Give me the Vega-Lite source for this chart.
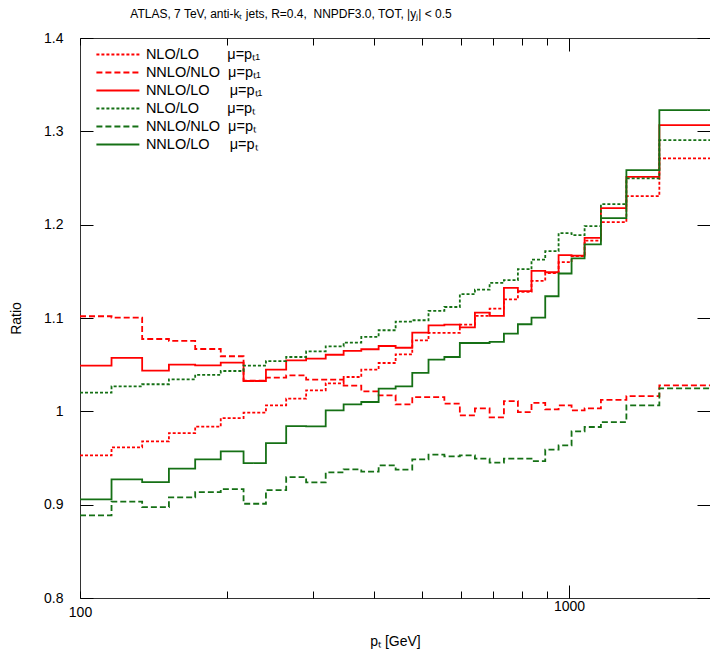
{
  "$schema": "https://vega.github.io/schema/vega-lite/v6.json",
  "width": 630,
  "height": 560,
  "autosize": {"type": "none"},
  "padding": {"left": 80, "top": 38, "right": 0, "bottom": 55},
  "background": "white",
  "title": {
    "text": "ATLAS, 7 TeV, anti-kₜ jets, R=0.4,\u00a0 NNPDF3.0, TOT, |yⱼ| < 0.5",
    "anchor": "middle", "dx": -104, "offset": 10,
    "font": "Liberation Sans", "fontSize": 12, "fontWeight": "normal", "color": "#000"
  },
  "config": {
    "view": {"stroke": "#333", "strokeWidth": 1},
    "axis": {
      "domain": false, "grid": false, "tickColor": "#000", "tickWidth": 1,
      "labelColor": "#000", "labelFont": "Liberation Sans", "labelFontSize": 14,
      "titleColor": "#000", "titleFont": "Liberation Sans", "titleFontSize": 14, "titleFontWeight": "normal",
      "labelOverlap": false, "labelFlush": false
    }
  },
  "datasets": {
    "ratios": [
      {"pt": 100, "rn": 0.9528, "rd": 1.1019, "rs": 1.049, "gn": 1.020, "gd": 0.8885, "gs": 0.9056},
      {"pt": 116, "rn": 0.9614, "rd": 1.1005, "rs": 1.0572, "gn": 1.0268, "gd": 0.9032, "gs": 0.9271},
      {"pt": 134, "rn": 0.9678, "rd": 1.0775, "rs": 1.0436, "gn": 1.029, "gd": 0.8974, "gs": 0.9242},
      {"pt": 152, "rn": 0.9767, "rd": 1.0754, "rs": 1.0501, "gn": 1.0343, "gd": 0.9078, "gs": 0.9386},
      {"pt": 172, "rn": 0.9836, "rd": 1.0668, "rs": 1.0493, "gn": 1.0391, "gd": 0.9135, "gs": 0.9485},
      {"pt": 194, "rn": 0.9928, "rd": 1.059, "rs": 1.0522, "gn": 1.0432, "gd": 0.9167, "gs": 0.9571},
      {"pt": 216, "rn": 0.9986, "rd": 1.033, "rs": 1.0325, "gn": 1.049, "gd": 0.901, "gs": 0.9446},
      {"pt": 240, "rn": 1.0064, "rd": 1.0361, "rs": 1.0447, "gn": 1.0539, "gd": 0.9156, "gs": 0.966},
      {"pt": 264, "rn": 1.0136, "rd": 1.0386, "rs": 1.0547, "gn": 1.0582, "gd": 0.9295, "gs": 0.9842},
      {"pt": 290, "rn": 1.0225, "rd": 1.034, "rs": 1.0565, "gn": 1.0643, "gd": 0.9239, "gs": 0.9839},
      {"pt": 318, "rn": 1.030, "rd": 1.034, "rs": 1.0606, "gn": 1.0697, "gd": 0.9346, "gs": 1.0011},
      {"pt": 346, "rn": 1.0368, "rd": 1.0276, "rs": 1.0647, "gn": 1.0737, "gd": 0.9378, "gs": 1.0075},
      {"pt": 376, "rn": 1.0447, "rd": 1.0214, "rs": 1.0665, "gn": 1.0797, "gd": 0.9353, "gs": 1.010},
      {"pt": 408, "rn": 1.0518, "rd": 1.0172, "rs": 1.070, "gn": 1.0869, "gd": 0.9421, "gs": 1.0243},
      {"pt": 442, "rn": 1.0611, "rd": 1.0075, "rs": 1.0681, "gn": 1.0962, "gd": 0.9375, "gs": 1.0268},
      {"pt": 478, "rn": 1.0761, "rd": 1.0153, "rs": 1.0844, "gn": 1.0976, "gd": 0.9485, "gs": 1.0411},
      {"pt": 516, "rn": 1.084, "rd": 1.0153, "rs": 1.0922, "gn": 1.1076, "gd": 0.9536, "gs": 1.0554},
      {"pt": 556, "rn": 1.084, "rd": 1.0083, "rs": 1.093, "gn": 1.1118, "gd": 0.9517, "gs": 1.0582},
      {"pt": 598, "rn": 1.093, "rd": 0.9957, "rs": 1.090, "gn": 1.1255, "gd": 0.9528, "gs": 1.0732},
      {"pt": 642, "rn": 1.1022, "rd": 1.0032, "rs": 1.1058, "gn": 1.1303, "gd": 0.9493, "gs": 1.0732},
      {"pt": 688, "rn": 1.110, "rd": 0.9936, "rs": 1.1022, "gn": 1.1376, "gd": 0.945, "gs": 1.0745},
      {"pt": 736, "rn": 1.120, "rd": 1.011, "rs": 1.1322, "gn": 1.1405, "gd": 0.9493, "gs": 1.0833},
      {"pt": 786, "rn": 1.128, "rd": 0.9992, "rs": 1.1287, "gn": 1.1523, "gd": 0.9493, "gs": 1.0933},
      {"pt": 838, "rn": 1.1397, "rd": 1.0091, "rs": 1.1505, "gn": 1.1625, "gd": 0.9467, "gs": 1.1003},
      {"pt": 894, "rn": 1.148, "rd": 1.0021, "rs": 1.149, "gn": 1.1716, "gd": 0.9589, "gs": 1.1233},
      {"pt": 952, "rn": 1.1598, "rd": 1.0064, "rs": 1.1673, "gn": 1.1909, "gd": 0.9635, "gs": 1.1477},
      {"pt": 1012, "rn": 1.1662, "rd": 1.0011, "rs": 1.1668, "gn": 1.1887, "gd": 0.9786, "gs": 1.1638},
      {"pt": 1076, "rn": 1.1828, "rd": 1.0032, "rs": 1.1858, "gn": 1.1984, "gd": 0.9832, "gs": 1.1788},
      {"pt": 1162, "rn": 1.2027, "rd": 1.0123, "rs": 1.2177, "gn": 1.222, "gd": 0.9885, "gs": 1.207},
      {"pt": 1310, "rn": 1.2306, "rd": 1.0164, "rs": 1.2513, "gn": 1.2495, "gd": 1.0064, "gs": 1.2584},
      {"pt": 1530, "rn": 1.271, "rd": 1.0279, "rs": 1.3067, "gn": 1.2906, "gd": 1.0247, "gs": 1.3228},
      {"pt": 1992, "rn": 1.271, "rd": 1.0279, "rs": 1.3067, "gn": 1.2906, "gd": 1.0247, "gs": 1.3228}
    ]
  },
  "layer": [
    {
      "data": {"name": "ratios"},
      "transform": [{"fold": ["rn", "rd", "rs", "gn", "gd", "gs"], "as": ["s", "r"]}],
      "mark": {"type": "line", "interpolate": "step-after", "strokeWidth": 1.8, "clip": true},
      "encoding": {
        "x": {
          "field": "pt", "type": "quantitative",
          "scale": {"type": "log", "domain": [100, 1942], "nice": false},
          "axis": {
            "orient": "bottom", "title": "pₜ [GeV]",
            "values": [100, 200, 300, 400, 500, 600, 700, 800, 900, 1000],
            "tickSize": {"condition": {"test": "datum.value == 1000", "value": -13}, "value": -7},
            "labelExpr": "datum.value == 100 || datum.value == 1000 ? datum.value : ''",
            "labelPadding": 14, "titlePadding": 15
          }
        },
        "y": {
          "field": "r", "type": "quantitative",
          "scale": {"domain": [0.8, 1.4], "nice": false},
          "axis": {
            "orient": "left", "title": "Ratio",
            "values": [0.8, 0.9, 1, 1.1, 1.2, 1.3, 1.4], "format": "~g",
            "tickSize": -13, "labelPadding": 30, "titlePadding": 20
          }
        },
        "color": {
          "field": "s", "type": "nominal",
          "scale": {"domain": ["rn", "rd", "rs", "gn", "gd", "gs"], "range": ["#ff0000", "#ff0000", "#ff0000", "#157015", "#157015", "#157015"]},
          "legend": {
            "orient": "none", "legendX": 29.4, "legendY": 8, "title": null, "padding": 0,
            "symbolType": "M-3.04,0H3.04", "symbolSize": 200, "symbolStrokeWidth": 2, "symbolFillColor": "transparent",
            "labelFont": "Liberation Sans", "labelFontSize": 14.5, "labelColor": "#000", "labelLimit": 400, "labelOffset": 19.5,
            "rowPadding": 3,
            "labelExpr": "datum.value == 'rn' ? 'NLO/LO\u00a0\u00a0\u00a0\u00a0\u00a0\u00a0\u00a0μ=pₜ₁' : datum.value == 'rd' ? 'NNLO/NLO\u00a0\u00a0μ=pₜ₁' : datum.value == 'rs' ? 'NNLO/LO\u00a0\u00a0\u00a0\u00a0\u00a0μ=pₜ₁' : datum.value == 'gn' ? 'NLO/LO\u00a0\u00a0\u00a0\u00a0\u00a0\u00a0\u00a0μ=pₜ' : datum.value == 'gd' ? 'NNLO/NLO\u00a0\u00a0μ=pₜ' : 'NNLO/LO\u00a0\u00a0\u00a0\u00a0\u00a0μ=pₜ'"
          }
        },
        "strokeDash": {
          "field": "s", "type": "nominal",
          "scale": {"domain": ["rn", "rd", "rs", "gn", "gd", "gs"], "range": [[3, 2], [6, 3], [1, 0], [3, 2], [6, 3], [1, 0]]},
          "legend": {
            "orient": "none", "legendX": 29.4, "legendY": 8, "title": null, "padding": 0,
            "symbolType": "M-3.04,0H3.04", "symbolSize": 200, "symbolStrokeWidth": 2, "symbolFillColor": "transparent",
            "labelFont": "Liberation Sans", "labelFontSize": 14.5, "labelColor": "#000", "labelLimit": 400, "labelOffset": 19.5,
            "rowPadding": 3,
            "labelExpr": "datum.value == 'rn' ? 'NLO/LO\u00a0\u00a0\u00a0\u00a0\u00a0\u00a0\u00a0μ=pₜ₁' : datum.value == 'rd' ? 'NNLO/NLO\u00a0\u00a0μ=pₜ₁' : datum.value == 'rs' ? 'NNLO/LO\u00a0\u00a0\u00a0\u00a0\u00a0μ=pₜ₁' : datum.value == 'gn' ? 'NLO/LO\u00a0\u00a0\u00a0\u00a0\u00a0\u00a0\u00a0μ=pₜ' : datum.value == 'gd' ? 'NNLO/NLO\u00a0\u00a0μ=pₜ' : 'NNLO/LO\u00a0\u00a0\u00a0\u00a0\u00a0μ=pₜ'"
          }
        }
      }
    },
    {
      "data": {"values": [{"pt": 100, "r": 1}]},
      "mark": {"type": "point", "opacity": 0},
      "encoding": {
        "x": {
          "field": "pt", "type": "quantitative",
          "scale": {"type": "log", "domain": [100, 1942], "nice": false},
          "axis": {
            "orient": "top", "title": null, "labels": false,
            "values": [100, 200, 300, 400, 500, 600, 700, 800, 900, 1000],
            "tickSize": {"condition": {"test": "datum.value == 1000", "value": -13}, "value": -7}
          }
        },
        "y": {
          "field": "r", "type": "quantitative",
          "scale": {"domain": [0.8, 1.4], "nice": false},
          "axis": {"orient": "right", "title": null, "labels": false, "values": [0.8, 0.9, 1, 1.1, 1.2, 1.3, 1.4], "tickSize": -13}
        }
      }
    },
    {
      "mark": {"type": "rule", "color": "#000", "strokeWidth": 1.5, "strokeDash": [2, 2]},
      "encoding": {"y": {"datum": 1, "axis": null}}
    }
  ],
  "resolve": {"axis": {"x": "independent", "y": "independent"}}
}
